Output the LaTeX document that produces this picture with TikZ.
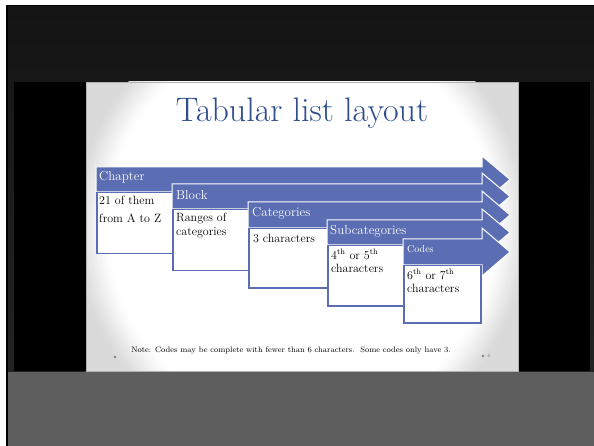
\documentclass[tikz,border=0pt]{standalone}
\usepackage{tikz}
\usepackage{xcolor}

\definecolor{tabblue}{HTML}{5B6DB3}
\definecolor{titleblue}{HTML}{2E4E8E}
\definecolor{topdark}{HTML}{141414}
\definecolor{middark}{HTML}{232323}
\definecolor{lowgray}{HTML}{5E5E5E}
\definecolor{cornergray}{HTML}{DADADA}

\begin{document}
\begin{tikzpicture}[
  x=1pt, y=-1pt,
  tabbar/.style={fill=tabblue,draw=white,line width=1pt,line join=miter},
  tabbox/.style={draw=tabblue,fill=white,line width=1.5pt,inner sep=0pt},
  tablabel/.style={text=white,inner sep=0pt,font=\fontsize{13}{15}\selectfont},
  tabtext/.style={text=black,inner sep=0pt,align=left,font=\fontsize{12}{13.5}\selectfont}
]
  \useasboundingbox (0,0) rectangle (594,446);
  % screen around the slide
  \fill[white] (0,0) rectangle (594,446);
  \fill[black] (6,5) rectangle (594,446);
  \shade[top color=topdark,bottom color=middark] (8,7) rectangle (594,372);
  \fill[lowgray] (8,372) rectangle (594,446);
  \fill[black] (14,82) rectangle (590,371);
  % slide with its soft round glow
  \fill[cornergray] (86,82) rectangle (518,371);
  \begin{scope}
    \clip (86,82) rectangle (518,371);
    \foreach \r/\p in {226/96,223/86,220/76,217/66,214/56,211/46,208/36,205/26,202/17,199/9,196/3}
      \fill[cornergray!\p!white] (302,226.5) circle (\r);
    \fill[white] (302,226.5) circle (193);
  \end{scope}
  \draw[gray!60,line width=0.6pt] (86,82) rectangle (518,371);

  \node[text=titleblue,inner sep=0pt,font=\fontsize{34}{38}\selectfont] (title) at (302,113) {Tabular list layout};

  % chapter
  \filldraw[tabbar] (96,167) -- (482,167) -- (482,156) -- (510,179.5) -- (482,203) -- (482,192) -- (96,192) -- cycle;
  \node[tabbox,minimum width=76pt,minimum height=61pt,anchor=north west] (chbox) at (96,192) {};
  \node[tablabel,anchor=west] (chlabel) at (99,177) {Chapter};
  \node[tabtext,anchor=north west] (chtext) at (99,196) {21 of them\\[4pt]from A to Z};

  % block
  \filldraw[tabbar] (172,184) -- (482,184) -- (482,173) -- (510,196.5) -- (482,220) -- (482,209) -- (172,209) -- cycle;
  \node[tabbox,minimum width=76pt,minimum height=61pt,anchor=north west] (blbox) at (172,209) {};
  \node[tablabel,anchor=west] (bllabel) at (176,195) {Block};
  \node[tabtext,anchor=north west] (bltext) at (176,213) {Ranges of\\categories};

  % categories
  \filldraw[tabbar] (248,202) -- (482,202) -- (482,191) -- (510,215) -- (482,239) -- (482,228) -- (248,228) -- cycle;
  \node[tabbox,minimum width=79pt,minimum height=59pt,anchor=north west] (catbox) at (248,228) {};
  \node[tablabel,anchor=west] (catlabel) at (252,213) {Categories};
  \node[tabtext,anchor=north west] (cattext) at (253,234) {3 characters};

  % subcategories
  \filldraw[tabbar] (327,220) -- (482,220) -- (482,209) -- (510,232.5) -- (482,256) -- (482,245) -- (327,245) -- cycle;
  \node[tabbox,minimum width=76pt,minimum height=60pt,anchor=north west] (subbox) at (327,245) {};
  \node[tablabel,anchor=west] (sublabel) at (330,231) {Subcategories};
  \node[tabtext,anchor=north west] (subtext) at (331,249) {4\textsuperscript{th} or 5\textsuperscript{th}\\characters};

  % codes
  \filldraw[tabbar] (403,239) -- (482,239) -- (482,228) -- (510,252) -- (482,276) -- (482,265) -- (403,265) -- cycle;
  \node[tabbox,minimum width=77pt,minimum height=57pt,anchor=north west] (codbox) at (403,265) {};
  \node[tablabel,anchor=west,font=\fontsize{10}{12}\selectfont] (codlabel) at (407,249) {Codes};
  \node[tabtext,anchor=north west] (codtext) at (407,269) {6\textsuperscript{th} or 7\textsuperscript{th}\\characters};

  % footer
  \node[inner sep=0pt,font=\fontsize{8}{9}\selectfont] (note) at (291,350) {Note: Codes may be complete with fewer than 6 characters.\ \ Some codes only have 3.};
  \fill[gray] (115,357) circle (1.3);
  \fill[gray] (483,356) circle (1.3);
  \node[text=gray,inner sep=0pt,font=\fontsize{5}{6}\selectfont] (pageno) at (489,356) {6};
\end{tikzpicture}
\end{document}
